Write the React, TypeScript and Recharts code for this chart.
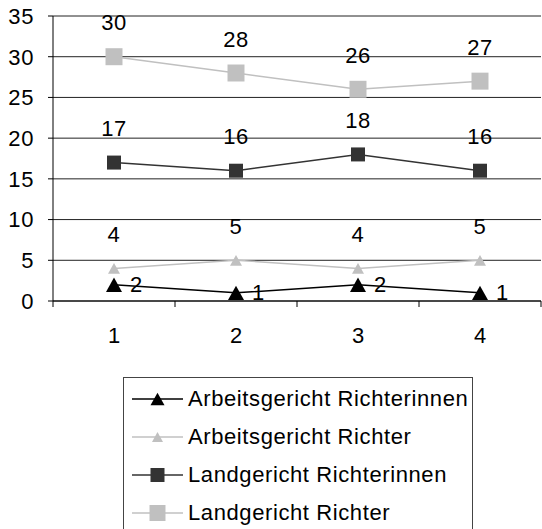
import React from "react";
import { LineChart, Line, XAxis, YAxis, CartesianGrid, Legend, LabelList } from "recharts";

const categories = [1, 2, 3, 4];
const arbeitsRichterinnen = [2, 1, 2, 1];
const arbeitsRichter = [4, 5, 4, 5];
const landRichterinnen = [17, 16, 18, 16];
const landRichter = [30, 28, 26, 27];
const yTicks = [0, 5, 10, 15, 20, 25, 30, 35];
const xTicks = [0.5, 1, 1.5, 2, 2.5, 3, 3.5, 4, 4.5];

const FONT = "'Liberation Sans', Arial, sans-serif";
const FS = 22;
const LS = 0.6;

type Shape = "triangle" | "square";

interface Series {
  key: string;
  name: string;
  color: string;
  shape: Shape;
  size: number;
  legendSize: number;
  label: "top" | "right";
}

const series: Series[] = [
  { key: "ar", name: "Arbeitsgericht Richterinnen", color: "#000000", shape: "triangle", size: 16, legendSize: 14, label: "right" },
  { key: "a", name: "Arbeitsgericht Richter", color: "#c0c0c0", shape: "triangle", size: 12, legendSize: 11, label: "top" },
  { key: "lr", name: "Landgericht Richterinnen", color: "#333333", shape: "square", size: 14, legendSize: 14, label: "top" },
  { key: "l", name: "Landgericht Richter", color: "#c0c0c0", shape: "square", size: 17, legendSize: 16, label: "top" },
];

const data = categories.map((c, i) => ({
  x: c,
  ar: arbeitsRichterinnen[i],
  a: arbeitsRichter[i],
  lr: landRichterinnen[i],
  l: landRichter[i],
}));

function markerPath(shape: Shape, cx: number, cy: number, s: number) {
  if (shape === "square") {
    const h = s / 2;
    return `M${cx - h},${cy - h}h${s}v${s}h${-s}Z`;
  }
  const h = s * 0.9;
  return `M${cx},${cy - h / 2}L${cx + s / 2},${cy + h / 2}L${cx - s / 2},${cy + h / 2}Z`;
}

function XTick(props: any) {
  const { x, y, payload } = props;
  const v = payload.value;
  if (Number.isInteger(v)) {
    return (
      <text x={x} y={y + 34} textAnchor="middle" dominantBaseline="central" fontSize={FS} fontFamily={FONT} fill="#000">
        {v}
      </text>
    );
  }
  return <line x1={x} x2={x} y1={y} y2={y + 6} stroke="#000" />;
}

function LegendBox() {
  return (
    <div
      style={{
        width: 350,
        height: 160,
        border: "1px solid #444",
        background: "#fff",
        boxSizing: "border-box",
        paddingTop: 2,
        paddingLeft: 8,
        fontFamily: FONT,
        fontSize: FS,
        letterSpacing: LS,
      }}
    >
      {series.map((s) => (
        <div key={s.key} style={{ display: "flex", alignItems: "center", height: 38 }}>
          <svg width={51} height={20} style={{ marginRight: 5 }}>
            <line x1={0} x2={51} y1={10} y2={10} stroke={s.color} strokeWidth={1.5} />
            <path d={markerPath(s.shape, 25.5, 10, s.legendSize)} fill={s.color} />
          </svg>
          <span style={{ whiteSpace: "nowrap" }}>{s.name}</span>
        </div>
      ))}
    </div>
  );
}

export default function App() {
  return (
    <div style={{ position: "absolute", top: 0, left: 0, width: 542, height: 529, background: "#fff" }}>
      <LineChart width={542} height={529} data={data} margin={{ top: 16, right: 1, left: 0, bottom: 198 }}>
        <CartesianGrid horizontal vertical={false} stroke="#222" />
        <XAxis
          dataKey="x"
          type="number"
          domain={[0.5, 4.5]}
          ticks={xTicks}
          interval={0}
          height={30}
          tickSize={0}
          tickMargin={0}
          tickLine={false}
          axisLine={{ stroke: "#000" }}
          tick={<XTick />}
        />
        <YAxis
          domain={[0, 35]}
          ticks={yTicks}
          interval={0}
          width={53}
          tickSize={5}
          tickMargin={14}
          axisLine={{ stroke: "#000" }}
          tickLine={{ stroke: "#000" }}
          tick={{ fill: "#000", fontSize: FS, fontFamily: FONT, letterSpacing: LS }}
        />
        {series.map((s) => (
          <Line
            key={s.key}
            dataKey={s.key}
            name={s.name}
            type="linear"
            stroke={s.color}
            strokeWidth={1.5}
            isAnimationActive={false}
            dot={(p: any) => <path key={`${s.key}-${p.index}`} d={markerPath(s.shape, p.cx, p.cy, s.size)} fill={s.color} />}
            activeDot={false}
          >
            <LabelList
              dataKey={s.key}
              content={(p: any) => {
                const cx = p.x;
                const cy = p.y;
                if (s.label === "right") {
                  return (
                    <text x={cx + 16} y={cy} dominantBaseline="central" fontSize={FS} fontFamily={FONT} fill="#000">
                      {p.value}
                    </text>
                  );
                }
                return (
                  <text x={cx} y={cy - 34} textAnchor="middle" dominantBaseline="central" fontSize={FS} fontFamily={FONT} letterSpacing={LS} fill="#000">
                    {p.value}
                  </text>
                );
              }}
            />
          </Line>
        ))}
        <Legend
          layout="vertical"
          align="center"
          verticalAlign="middle"
          wrapperStyle={{ top: 377, left: 123 }}
          content={() => <LegendBox />}
        />
      </LineChart>
    </div>
  );
}
